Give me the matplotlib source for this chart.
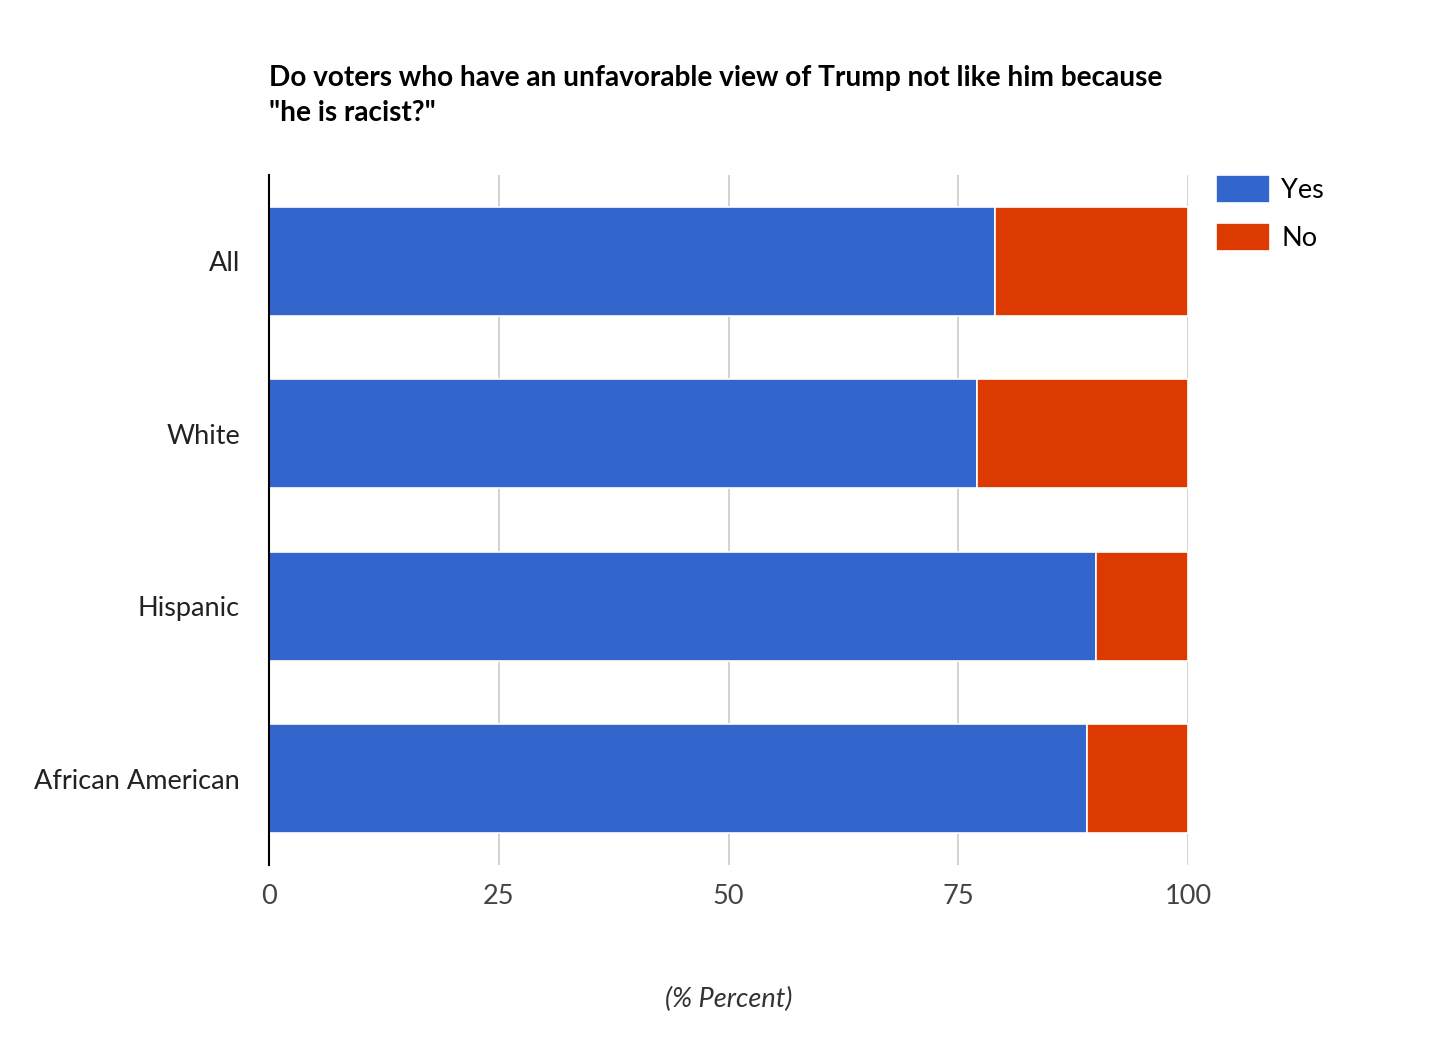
import matplotlib
matplotlib.use("Agg")
import matplotlib.pyplot as plt
import numpy as np

categories = ["All", "White", "Hispanic", "African American"]
yes_values = [79, 77, 90, 89]
no_values = [21, 23, 10, 11]
x_ticks = [0, 25, 50, 75, 100]
title = 'Do voters who have an unfavorable view of Trump not like him because\n"he is racist?"'
x_label = "(% Percent)"

plt.rcParams['font.family'] = ['Lato', 'DejaVu Sans']

fig = plt.figure(figsize=(14.4, 10.42), dpi=100)
ax = fig.add_axes([269/1440, 1-865/1042, (1188-269)/1440, (865-175)/1042])

y = np.arange(len(categories))
h = 0.63
blue = "#3366CC"
red = "#DC3A00"
ax.barh(y, yes_values, height=h, color=blue, edgecolor="white", linewidth=1.2, label="Yes", zorder=3)
ax.barh(y, no_values, left=yes_values, height=h, color=red, edgecolor="white", linewidth=1.2, label="No", zorder=3)

ax.set_xlim(0, 100)
ax.set_ylim(len(categories) - 0.5, -0.5)
ax.set_yticks(y)
ax.set_yticklabels(categories, fontsize=19.5, color="#222222")
ax.set_xticks(x_ticks)
ax.set_xticklabels([str(t) for t in x_ticks], fontsize=19.5, color="#444444")
ax.tick_params(axis='both', length=0)
ax.tick_params(axis='y', pad=21)
ax.tick_params(axis='x', pad=14)

for t in x_ticks[1:]:
    ax.axvline(t, color="#cccccc", linewidth=1.2, zorder=1)
for s in ["top", "right", "bottom"]:
    ax.spines[s].set_visible(False)
ax.spines["left"].set_color("black")
ax.spines["left"].set_linewidth(1.5)
ax.spines["left"].set_zorder(4)

ax.set_xlabel(x_label, fontsize=19.5, style="italic", color="#333333", labelpad=56)

fig.text(269/1440, 1-65/1042, title, fontsize=20.2, fontweight="bold", ha="left", va="top",
         linespacing=1.45, color="black")

leg = ax.legend(loc="upper left", bbox_to_anchor=(1.019, 1.016), frameon=False, fontsize=19.5,
                handlelength=2.0, handleheight=1.2, labelspacing=0.75, handletextpad=0.4,
                borderaxespad=0)

fig.savefig("out.png", dpi=100, facecolor="white")
